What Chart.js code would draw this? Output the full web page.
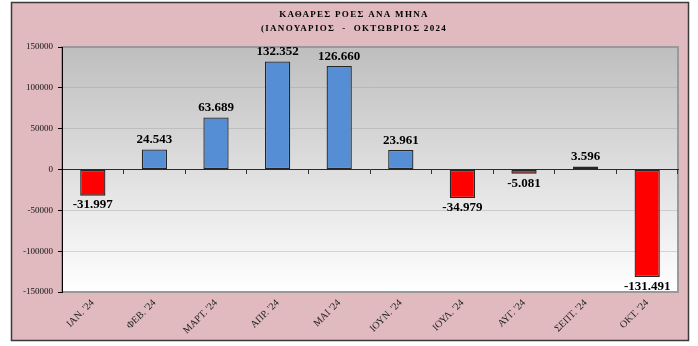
<!DOCTYPE html>
<html>
<head>
<meta charset="utf-8">
<script src="https://cdn.jsdelivr.net/npm/chart.js@4"></script>
<style>
html,body{margin:0;padding:0;background:#fff;}
#wrap{width:698px;height:346px;}
</style>
</head>
<body>
<div id="wrap"><canvas id="c" width="698" height="346"></canvas></div>
<script>
const categories = ["ΙΑΝ. '24","ΦΕΒ. '24","ΜΑΡΤ. '24","ΑΠΡ. '24","ΜΑΙ '24","ΙΟΥΝ. '24","ΙΟΥΛ. '24","ΑΥΓ. '24","ΣΕΠΤ. '24","ΟΚΤ. '24"];
const netFlows = [-31997, 24543, 63689, 132352, 126660, 23961, -34979, -5081, 3596, -131491];
const titleLines = ["ΚΑΘΑΡΕΣ ΡΟΕΣ ΑΝΑ ΜΗΝΑ", "(ΙΑΝΟΥΑΡΙΟΣ  -  ΟΚΤΩΒΡΙΟΣ 2024"];
const yMin = -150000, yMax = 150000, yStep = 50000;

const SERIF = '"Liberation Serif", "Times New Roman", serif';

function fmt(v){
  const s = Math.abs(v).toString().replace(/\B(?=(\d{3})+(?!\d))/g, '.');
  return (v < 0 ? '-' : '') + s;
}

const bgPlugin = {
  id: 'bg',
  beforeDraw(chart){
    const ctx = chart.ctx, a = chart.chartArea;
    ctx.save();
    ctx.fillStyle = '#ffffff';
    ctx.fillRect(0,0,chart.width,chart.height);
    ctx.fillStyle = '#e0babe';
    ctx.fillRect(11,2,678,339);
    ctx.strokeStyle = '#3a3a3a';
    ctx.lineWidth = 1.5;
    ctx.strokeRect(11.5,2.5,677,338);
    const g = ctx.createLinearGradient(0,a.top,0,a.bottom);
    g.addColorStop(0,'#bebebe');
    g.addColorStop(1,'#ffffff');
    ctx.fillStyle = g;
    ctx.fillRect(a.left,a.top,a.right-a.left,a.bottom-a.top);
    ctx.strokeStyle = '#9a9a9a';
    ctx.lineWidth = 2;
    ctx.strokeRect(a.left,a.top,a.right-a.left,a.bottom-a.top);
    // title
    ctx.fillStyle = '#000';
    ctx.font = 'bold 9px ' + SERIF;
    try { ctx.letterSpacing = '1.3px'; } catch(e) {}
    ctx.textAlign = 'center';
    ctx.textBaseline = 'middle';
    ctx.fillText(titleLines[0], 354, 15);
    ctx.fillText(titleLines[1], 354, 29);
    ctx.restore();
  }
};

const labelPlugin = {
  id: 'vlabels',
  afterDatasetsDraw(chart){
    const ctx = chart.ctx;
    const meta = chart.getDatasetMeta(0);
    ctx.save();
    ctx.fillStyle = '#000';
    ctx.font = 'bold 13px ' + SERIF;
    ctx.textAlign = 'center';
    meta.data.forEach((el, i) => {
      const v = netFlows[i];
      if (v >= 0) {
        ctx.textBaseline = 'bottom';
        ctx.fillText(fmt(v), el.x, el.y - 3);
      } else {
        ctx.textBaseline = 'top';
        ctx.fillText(fmt(v), el.x, el.y + 3);
      }
    });
    ctx.restore();
  }
};

new Chart(document.getElementById('c'), {
  type: 'bar',
  data: {
    labels: categories,
    datasets: [{
      data: netFlows,
      backgroundColor: netFlows.map(v => v < 0 ? '#ff0000' : '#558ed5'),
      borderColor: '#262626',
      borderWidth: 1.3,
      borderSkipped: false,
      barPercentage: 0.41,
      categoryPercentage: 1.0
    }]
  },
  options: {
    responsive: false,
    animation: false,
    devicePixelRatio: 1,
    layout: { padding: { left: 0, top: 47, right: 20, bottom: 0 } },
    plugins: { legend: { display: false }, title: { display: false }, tooltip: { enabled: false } },
    scales: {
      x: {
        position: 'bottom',
        offset: true,
        grid: { display: false, drawTicks: false },
        border: { display: false },
        ticks: {
          minRotation: 45, maxRotation: 45, autoSkip: false,
          padding: 5,
          color: '#222',
          font: { family: SERIF, size: 10 }
        },
        afterFit(scale){ scale.height = 54; }
      },
      x2: {
        type: 'category',
        position: { y: 0 },
        offset: true,
        grid: { offset: true, drawOnChartArea: false, drawTicks: true, tickLength: 4, color: '#333', lineWidth: 1 },
        border: { display: true, color: '#2a2a2a', width: 1 },
        ticks: { display: false }
      },
      y: {
        min: yMin, max: yMax,
        ticks: {
          stepSize: yStep,
          padding: 5,
          color: '#111',
          font: { family: SERIF, size: 9 },
          callback: v => String(v)
        },
        grid: {
          color: ctx => (ctx.tick && ctx.tick.value === 0) ? 'rgba(0,0,0,0)' : 'rgba(150,150,150,0.35)',
          tickColor: '#000',
          tickLength: 4,
          lineWidth: 1
        },
        border: { display: true, color: '#000', width: 1 },
        afterFit(scale){ scale.width = 62; }
      }
    }
  },
  plugins: [bgPlugin, labelPlugin]
});
</script>
</body>
</html>
